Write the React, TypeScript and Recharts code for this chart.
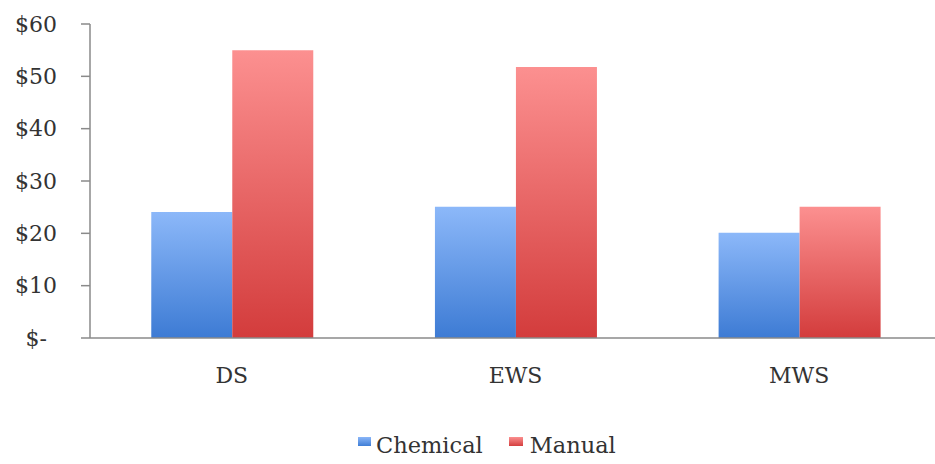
import React from 'react';
import { BarChart, Bar, XAxis, YAxis, Legend } from 'recharts';

const categories = ['DS', 'EWS', 'MWS'];
const chemical = [24.1, 25.1, 20.1];
const manual = [55, 51.8, 25.1];
const yTicks = [0, 10, 20, 30, 40, 50, 60];
const edgeTicks = [0, 1, 2, 3];

const data = categories.map((name, i) => ({ name, edge: i, Chemical: chemical[i], Manual: manual[i] }));

const FONT = '"DejaVu Serif", serif';
const AXIS = '#8a8a8a';
const TEXT = '#333';

const YTick = (props: any) => {
  const { x, y, payload } = props;
  const zero = payload.value === 0;
  return (
    <text x={zero ? x - 10 : x} y={y} dy="0.355em" textAnchor="end" fill={TEXT} fontFamily={FONT} fontSize={22}>
      {zero ? '$-' : `$${payload.value}`}
    </text>
  );
};

const LegendBox = () => (
  <div style={{ display: 'flex', alignItems: 'center', fontFamily: FONT, fontSize: 22.5, color: TEXT }}>
    <span style={{ display: 'inline-block', width: 13, height: 9, marginBottom: 8, background: 'linear-gradient(#8ab6f8, #3f7ed6)' }} />
    <span style={{ marginLeft: 5 }}>Chemical</span>
    <span style={{ display: 'inline-block', width: 14, height: 9, marginBottom: 8, marginLeft: 26, background: 'linear-gradient(#fb8f8f, #d43f3f)' }} />
    <span style={{ marginLeft: 7 }}>Manual</span>
  </div>
);

export default function App() {
  return (
    <div style={{ position: 'absolute', left: 0, top: 0, width: 935, height: 464, overflow: 'hidden', background: '#fff' }}>
      <BarChart
        width={960}
        height={464}
        data={data}
        margin={{ top: 24, right: 19, left: 0, bottom: 0 }}
        barCategoryGap="21.6%"
        barGap={0}
      >
        <defs>
          <linearGradient id="gBlue" x1="0" y1="0" x2="0" y2="1">
            <stop offset="0%" stopColor="#8cb8f9" />
            <stop offset="100%" stopColor="#3d7bd4" />
          </linearGradient>
          <linearGradient id="gRed" x1="0" y1="0" x2="0" y2="1">
            <stop offset="0%" stopColor="#fc9090" />
            <stop offset="100%" stopColor="#d33c3c" />
          </linearGradient>
        </defs>
        <XAxis
          xAxisId="a"
          dataKey="edge"
          type="number"
          domain={[0, 3]}
          allowDataOverflow
          ticks={edgeTicks}
          height={1}
          tick={false}
          tickSize={9}
          axisLine={{ stroke: AXIS, strokeWidth: 1.5 }}
          tickLine={{ stroke: AXIS, strokeWidth: 1.5 }}
        />
        <XAxis
          xAxisId="b"
          dataKey="name"
          height={125}
          axisLine={false}
          tickLine={false}
          tickSize={0}
          tickMargin={28}
          tick={{ fill: TEXT, fontFamily: FONT, fontSize: 22 }}
        />
        <YAxis
          width={90}
          domain={[0, 60]}
          ticks={yTicks}
          tickSize={9}
          tickMargin={24}
          tick={<YTick />}
          axisLine={{ stroke: AXIS, strokeWidth: 1.5 }}
          tickLine={{ stroke: AXIS, strokeWidth: 1.5 }}
        />
        <Legend
          layout="horizontal"
          verticalAlign="middle"
          align="center"
          content={<LegendBox />}
          wrapperStyle={{ top: 432, left: 358, width: 'auto' }}
        />
        <Bar xAxisId="b" dataKey="Chemical" fill="url(#gBlue)" isAnimationActive={false} />
        <Bar xAxisId="b" dataKey="Manual" fill="url(#gRed)" isAnimationActive={false} />
      </BarChart>
    </div>
  );
}
